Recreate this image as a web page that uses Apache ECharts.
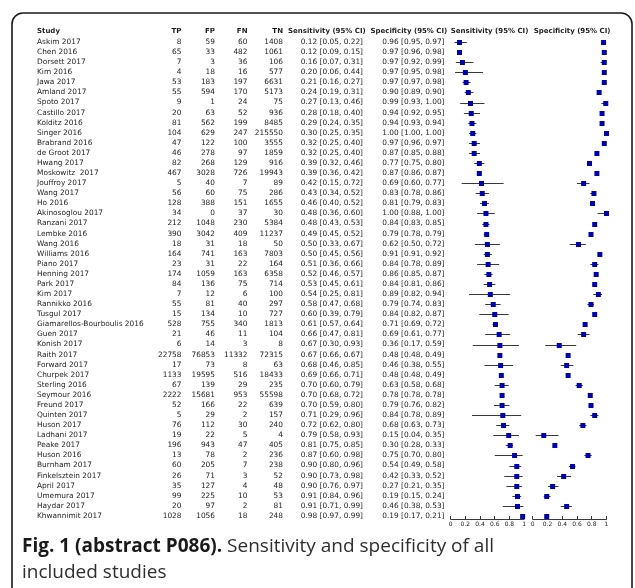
<!DOCTYPE html>
<html>
<head>
<meta charset="utf-8">
<script src="https://cdn.jsdelivr.net/npm/echarts@6/dist/echarts.min.js"></script>
<style>
  html, body { margin: 0; padding: 0; background: #fff; }
  #chart { width: 635px; height: 588px; }
</style>
</head>
<body>
<div id="chart"></div>
<script>
// ---- study data -------------------------------------------------------
const studies = [
  'Askim 2017', 'Chen 2016', 'Dorsett 2017', 'Kim 2016', 'Jawa 2017', 'Amland 2017',
  'Spoto 2017', 'Castillo 2017', 'Kolditz 2016', 'Singer 2016', 'Brabrand 2016', 'de Groot 2017',
  'Hwang 2017', 'Moskowitz  2017', 'Jouffroy 2017', 'Wang 2017', 'Ho 2016', 'Akinosoglou 2017',
  'Ranzani 2017', 'Lembke 2016', 'Wang 2016', 'Williams 2016', 'Piano 2017', 'Henning 2017',
  'Park 2017', 'Kim 2017', 'Rannikko 2016', 'Tusgul 2017', 'Giamarellos-Bourboulis 2016', 'Guen 2017',
  'Konish 2017', 'Raith 2017', 'Forward 2017', 'Churpek 2017', 'Sterling 2016', 'Seymour 2016',
  'Freund 2017', 'Quinten 2017', 'Huson 2017', 'Ladhani 2017', 'Peake 2017', 'Huson 2016',
  'Burnham 2017', 'Finkelsztein 2017', 'April 2017', 'Umemura 2017', 'Haydar 2017', 'Khwannimit 2017'
];
const tp = [8, 65, 7, 4, 53, 55, 9, 20, 81, 104, 47, 46, 82, 467, 5, 56, 128, 34, 212, 390, 18, 164, 23, 174,
  84, 7, 55, 15, 528, 21, 6, 22758, 17, 1133, 67, 2222, 52, 5, 76, 19, 196, 13, 60, 26, 35, 99, 20, 1028];
const fp = [59, 33, 3, 18, 183, 594, 1, 63, 562, 629, 122, 278, 268, 3028, 40, 60, 388, 0, 1048, 3042, 31, 741, 31, 1059,
  136, 12, 81, 134, 755, 46, 14, 76853, 73, 19595, 139, 15681, 166, 29, 112, 22, 943, 78, 205, 71, 127, 225, 97, 1056];
const fn = [60, 482, 36, 16, 197, 170, 24, 52, 199, 247, 100, 97, 129, 726, 7, 75, 151, 37, 230, 409, 18, 163, 22, 163,
  75, 6, 40, 10, 340, 11, 3, 11332, 8, 516, 29, 953, 22, 2, 30, 5, 47, 2, 7, 3, 4, 10, 2, 18];
const tn = [1408, 1061, 106, 577, 6631, 5173, 75, 936, 8485, 215550, 3555, 1859, 916, 19943, 89, 286, 1655, 30, 5384, 11237, 50, 7803, 164, 6358,
  714, 100, 297, 727, 1813, 104, 8, 72315, 63, 18433, 235, 55598, 639, 157, 240, 4, 405, 236, 238, 52, 48, 53, 81, 248];

const sens   = [0.12, 0.12, 0.16, 0.20, 0.21, 0.24, 0.27, 0.28, 0.29, 0.30, 0.32, 0.32, 0.39, 0.39, 0.42, 0.43, 0.46, 0.48, 0.48, 0.49, 0.50, 0.50, 0.51, 0.52,
  0.53, 0.54, 0.58, 0.60, 0.61, 0.66, 0.67, 0.67, 0.68, 0.69, 0.70, 0.70, 0.70, 0.71, 0.72, 0.79, 0.81, 0.87, 0.90, 0.90, 0.90, 0.91, 0.91, 0.98];
const sensLo = [0.05, 0.09, 0.07, 0.06, 0.16, 0.19, 0.13, 0.18, 0.24, 0.25, 0.25, 0.25, 0.32, 0.36, 0.15, 0.34, 0.40, 0.36, 0.43, 0.45, 0.33, 0.45, 0.36, 0.46,
  0.45, 0.25, 0.47, 0.39, 0.57, 0.47, 0.30, 0.66, 0.46, 0.66, 0.60, 0.68, 0.59, 0.29, 0.62, 0.58, 0.75, 0.60, 0.80, 0.73, 0.76, 0.84, 0.71, 0.97];
const sensHi = [0.22, 0.15, 0.31, 0.44, 0.27, 0.31, 0.46, 0.40, 0.35, 0.35, 0.40, 0.40, 0.46, 0.42, 0.72, 0.52, 0.52, 0.60, 0.53, 0.52, 0.67, 0.56, 0.66, 0.57,
  0.61, 0.81, 0.68, 0.79, 0.64, 0.81, 0.93, 0.67, 0.85, 0.71, 0.79, 0.72, 0.80, 0.96, 0.80, 0.93, 0.85, 0.98, 0.96, 0.98, 0.97, 0.96, 0.99, 0.99];

const spec   = [0.96, 0.97, 0.97, 0.97, 0.97, 0.90, 0.99, 0.94, 0.94, 1.00, 0.97, 0.87, 0.77, 0.87, 0.69, 0.83, 0.81, 1.00, 0.84, 0.79, 0.62, 0.91, 0.84, 0.86,
  0.84, 0.89, 0.79, 0.84, 0.71, 0.69, 0.36, 0.48, 0.46, 0.48, 0.63, 0.78, 0.79, 0.84, 0.68, 0.15, 0.30, 0.75, 0.54, 0.42, 0.27, 0.19, 0.46, 0.19];
const specLo = [0.95, 0.96, 0.92, 0.95, 0.97, 0.89, 0.93, 0.92, 0.93, 1.00, 0.96, 0.85, 0.75, 0.86, 0.60, 0.78, 0.79, 0.88, 0.83, 0.78, 0.50, 0.91, 0.78, 0.85,
  0.81, 0.82, 0.74, 0.82, 0.69, 0.61, 0.17, 0.48, 0.38, 0.48, 0.58, 0.78, 0.76, 0.78, 0.63, 0.04, 0.28, 0.70, 0.49, 0.33, 0.21, 0.15, 0.38, 0.17];
const specHi = [0.97, 0.98, 0.99, 0.98, 0.98, 0.90, 1.00, 0.95, 0.94, 1.00, 0.97, 0.88, 0.80, 0.87, 0.77, 0.86, 0.83, 1.00, 0.85, 0.79, 0.72, 0.92, 0.89, 0.87,
  0.86, 0.94, 0.83, 0.87, 0.72, 0.77, 0.59, 0.49, 0.55, 0.49, 0.68, 0.78, 0.82, 0.89, 0.73, 0.35, 0.33, 0.80, 0.58, 0.52, 0.35, 0.24, 0.53, 0.21];

const axisTicks = [0, 0.2, 0.4, 0.6, 0.8, 1];

const headers = ['Study', 'TP', 'FP', 'FN', 'TN', 'Sensitivity (95% CI)', 'Specificity (95% CI)'];
const plotHeaders = ['Sensitivity (95% CI)', 'Specificity (95% CI)'];
const captionBold = 'Fig. 1 (abstract P086).';
const captionText = ' Sensitivity and specificity of all\nincluded studies';

// ---- layout -----------------------------------------------------------
const FONT = 'DejaVu Sans';
const FS = 7.4;
const FS_HEAD = 7.0;
const TXT = '#1e1e1e';
const ROW_TOP = 42;
const ROW_SPAN = 474;
const HEAD_Y = 31;
// x anchors: study (left), TP/FP/FN/TN (right), CI columns (right)
const colX = { study: 37, tp: 181.5, fp: 215, fn: 247.5, tn: 283, sens: 363, spec: 444.5 };
const headX = { sens: 288, spec: 370.5 };
const sensPlot = { left: 450.7, width: 73.4 };
const specPlot = { left: 532.7, width: 73.8 };
const MARK = '#0000b8';

const f2 = v => v.toFixed(2);
const ci = (e, lo, hi) => `${f2(e)} [${f2(lo)}, ${f2(hi)}]`;

function txt(text, x, y, align, bold) {
  return {
    type: 'text',
    style: {
      text: text, x: x, y: y,
      align: align, textAlign: align,
      verticalAlign: 'middle', textVerticalAlign: 'middle',
      font: (bold ? 'bold ' + FS_HEAD : FS) + 'px "' + FONT + '"',
      fill: TXT
    },
    silent: true
  };
}

const rowIdx = studies.map((s, i) => i);

function tableRow(params, api) {
  const i = api.value(1);
  const y = api.coord([0, i])[1];
  return {
    type: 'group',
    children: [
      txt(studies[i], colX.study, y, 'left'),
      txt(String(tp[i]), colX.tp, y, 'right'),
      txt(String(fp[i]), colX.fp, y, 'right'),
      txt(String(fn[i]), colX.fn, y, 'right'),
      txt(String(tn[i]), colX.tn, y, 'right'),
      txt(ci(sens[i], sensLo[i], sensHi[i]), colX.sens, y, 'right'),
      txt(ci(spec[i], specLo[i], specHi[i]), colX.spec, y, 'right')
    ]
  };
}

function forestRow(params, api) {
  const i = api.value(1);
  const c = api.coord([api.value(0), i]);
  const lo = api.coord([api.value(2), i]);
  const hi = api.coord([api.value(3), i]);
  const y = Math.round(c[1]) + 0.5;
  return {
    type: 'group',
    children: [
      { type: 'line', shape: { x1: lo[0], y1: y, x2: hi[0], y2: y },
        style: { stroke: '#3a3a3a', lineWidth: 1 } },
      { type: 'rect', shape: { x: c[0] - 2.5, y: y - 2.5, width: 5, height: 5 },
        style: { fill: MARK } }
    ]
  };
}

const catAxis = gi => ({
  type: 'category', gridIndex: gi, data: studies, inverse: true,
  boundaryGap: false, show: false
});

const valAxis = gi => ({
  type: 'value', gridIndex: gi,
  min: axisTicks[0], max: axisTicks[axisTicks.length - 1],
  interval: axisTicks[1] - axisTicks[0],
  offset: 3,
  axisLine: { show: true, lineStyle: { color: '#3a3a3a', width: 1 } },
  axisTick: { show: true, inside: true, length: 3, lineStyle: { color: '#3a3a3a' } },
  axisLabel: { fontSize: 6, fontFamily: FONT, color: TXT, margin: 2,
    formatter: v => String(+v.toFixed(1)) },
  splitLine: { show: false }
});

const headerGraphics = [
  txt(headers[0], colX.study, HEAD_Y, 'left', true),
  txt(headers[1], colX.tp, HEAD_Y, 'right', true),
  txt(headers[2], colX.fp, HEAD_Y, 'right', true),
  txt(headers[3], colX.fn, HEAD_Y, 'right', true),
  txt(headers[4], colX.tn, HEAD_Y, 'right', true),
  txt(headers[5], headX.sens, HEAD_Y, 'left', true),
  txt(headers[6], headX.spec, HEAD_Y, 'left', true),
  txt(plotHeaders[0], sensPlot.left, HEAD_Y, 'left', true),
  txt(plotHeaders[1], specPlot.left + 1, HEAD_Y, 'left', true)
];

const chart = echarts.init(document.getElementById('chart'), null, { renderer: 'canvas' });
chart.setOption({
  backgroundColor: '#ffffff',
  animation: false,
  grid: [
    { left: 0, width: 635, top: ROW_TOP, height: ROW_SPAN },
    { left: sensPlot.left, width: sensPlot.width, top: ROW_TOP, height: ROW_SPAN },
    { left: specPlot.left, width: specPlot.width, top: ROW_TOP, height: ROW_SPAN }
  ],
  xAxis: [
    { type: 'value', gridIndex: 0, min: 0, max: 1, show: false },
    valAxis(1),
    valAxis(2)
  ],
  yAxis: [catAxis(0), catAxis(1), catAxis(2)],
  series: [
    { type: 'custom', xAxisIndex: 0, yAxisIndex: 0, renderItem: tableRow,
      data: rowIdx.map(i => [0, i]), encode: { x: 0, y: 1 }, silent: true },
    { type: 'custom', xAxisIndex: 1, yAxisIndex: 1, renderItem: forestRow,
      data: rowIdx.map(i => [sens[i], i, sensLo[i], sensHi[i]]), encode: { x: [0, 2, 3], y: 1 }, silent: true },
    { type: 'custom', xAxisIndex: 2, yAxisIndex: 2, renderItem: forestRow,
      data: rowIdx.map(i => [spec[i], i, specLo[i], specHi[i]]), encode: { x: [0, 2, 3], y: 1 }, silent: true }
  ],
  graphic: [
    // outer frame with rounded top corners
    { type: 'rect', shape: { x: 12, y: 13, width: 620, height: 620, r: 11 },
      style: { fill: 'none', stroke: '#1a1a1a', lineWidth: 1.6 }, silent: true },
    ...headerGraphics,
    // figure caption
    { type: 'text', silent: true,
      style: {
        x: 22, y: 534,
        text: '{b|' + captionBold + '}' + captionText,
        font: '19px "Open Sans"',
        fontSize: 19, fontFamily: 'Open Sans',
        fill: '#2e2e2e',
        lineHeight: 26,
        rich: { b: { fontWeight: 'bold', fontSize: 19, fontFamily: 'Open Sans', fill: '#1a1a1a', lineHeight: 26 } }
      } }
  ]
});
</script>
</body>
</html>
